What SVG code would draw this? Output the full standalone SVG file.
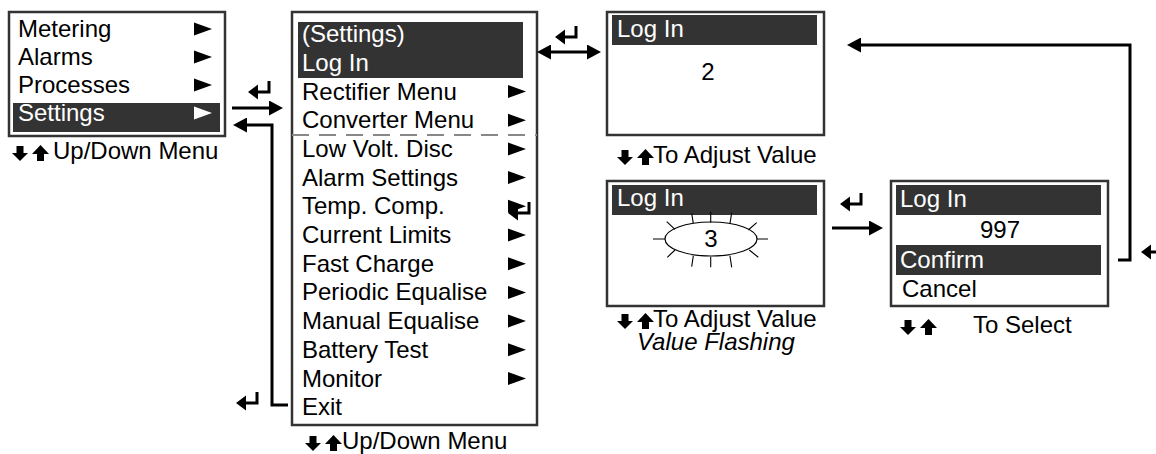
<svg xmlns="http://www.w3.org/2000/svg" xmlns:xlink="http://www.w3.org/1999/xlink" width="1156" height="454" viewBox="0 0 1156 454">
<style>
text{font-family:"Liberation Sans",Arial,sans-serif;font-size:24px;fill:#000}
.w{fill:#fff}
.it{font-style:italic}
.box{fill:#fff;stroke:#333;stroke-width:2.5}
.band{fill:#333}
.conn{fill:none;stroke:#000;stroke-width:3}
.ray{stroke:#000;stroke-width:1.1;fill:none}
.es{fill:none;stroke:#000;stroke-width:3}
</style>
<defs>
<marker id="arr" viewBox="0 0 14 15" refX="10" refY="7.5" markerWidth="14" markerHeight="15" markerUnits="userSpaceOnUse" orient="auto-start-reverse"><path d="M0,0 L14,7.5 L0,15 Z" fill="#000"/></marker>
<path id="tri" d="M0,-6.5 L18,0 L0,6.5 Z"/>
<g id="enter"><path d="M0,0 L10,-7.5 L10,7.5 Z" fill="#000"/><path class="es" d="M8,0 H22.5 M21,1.5 V-11"/></g>
<g id="ud" fill="#000"><path d="M4.5,-13 H11.5 V-6 H16 L8,2 L0,-6 H4.5 Z"/><path d="M20,-5 L28.5,-14 L37,-5 H32 V2 H25 V-5 Z"/></g>
</defs>

<g id="menu-main">
<rect class="box" x="9" y="12" width="216" height="124"/>
<rect class="band" x="13" y="103" width="207" height="29"/>
<text x="18" y="37">Metering</text>
<text x="18" y="65">Alarms</text>
<text x="18" y="93">Processes</text>
<text class="w" x="18" y="121">Settings</text>
<use href="#tri" x="194" y="29"/>
<use href="#tri" x="194" y="57"/>
<use href="#tri" x="194" y="85"/>
<use href="#tri" x="194" y="113" fill="#fff"/>
<use href="#ud" x="12" y="159"/>
<text x="53" y="159">Up/Down Menu</text>
</g>

<g id="menu-settings">
<rect class="box" x="292" y="12" width="245" height="413"/>
<rect class="band" x="298" y="22" width="225" height="56"/>
<line x1="292" y1="135" x2="537" y2="135" stroke="#888" stroke-width="2" stroke-dasharray="17 10"/>
<text class="w" x="302" y="42">(Settings)</text>
<text class="w" x="302" y="70.5">Log In</text>
<text x="302" y="99.5">Rectifier Menu</text>
<text x="302" y="128.2">Converter Menu</text>
<text x="302" y="156.9">Low Volt. Disc</text>
<text x="302" y="185.6">Alarm Settings</text>
<text x="302" y="214.3">Temp. Comp.</text>
<text x="302" y="243">Current Limits</text>
<text x="302" y="271.7">Fast Charge</text>
<text x="302" y="300.4">Periodic Equalise</text>
<text x="302" y="329.1">Manual Equalise</text>
<text x="302" y="357.8">Battery Test</text>
<text x="302" y="386.5">Monitor</text>
<text x="302" y="415.2">Exit</text>
<use href="#tri" x="508" y="91.5"/>
<use href="#tri" x="508" y="120.2"/>
<use href="#tri" x="508" y="148.9"/>
<use href="#tri" x="508" y="177.6"/>
<use href="#tri" x="508" y="206.3"/>
<use href="#enter" x="508" y="213"/>
<use href="#tri" x="508" y="235"/>
<use href="#tri" x="508" y="263.7"/>
<use href="#tri" x="508" y="292.4"/>
<use href="#tri" x="508" y="321.1"/>
<use href="#tri" x="508" y="349.8"/>
<use href="#tri" x="508" y="378.5"/>
<use href="#ud" x="305" y="449"/>
<text x="342" y="449">Up/Down Menu</text>
</g>

<g id="login-value">
<rect class="box" x="607" y="12" width="217" height="123"/>
<rect class="band" x="612" y="15" width="205" height="30"/>
<text class="w" x="617" y="37">Log In</text>
<text x="708" y="80" text-anchor="middle">2</text>
<use href="#ud" x="617" y="163"/>
<text x="653" y="163">To Adjust Value</text>
</g>

<g id="login-flashing">
<rect class="box" x="607" y="181" width="217" height="125"/>
<rect class="band" x="612" y="185" width="205" height="30"/>
<text class="w" x="617" y="206">Log In</text>
<ellipse cx="711" cy="239" rx="46" ry="17" fill="none" stroke="#000" stroke-width="1.2"/>
<text x="711" y="247" text-anchor="middle">3</text>
<path class="ray" d="M653,239 H665 M757,239 H768 M691.7,213.3 L693.3,223.3 M710.7,211.7 V222.7 M731.7,212.7 L730,223.3 M693.3,256 L691.7,266.7 M710.7,256.7 V267.3 M730,256 L731.7,267.3 M666.7,221.7 L675,229.3 M756.7,222.7 L748.3,230 M667.3,257.3 L675,250 M749.3,250 L758.3,257.3"/>
<use href="#ud" x="617" y="327"/>
<text x="653" y="327">To Adjust Value</text>
<text class="it" x="637" y="350">Value Flashing</text>
</g>

<g id="login-confirm">
<rect class="box" x="891" y="181" width="217" height="125"/>
<rect class="band" x="896" y="185" width="205" height="30"/>
<rect class="band" x="896" y="245" width="205" height="30"/>
<text class="w" x="900" y="207">Log In</text>
<text x="1000" y="238" text-anchor="middle">997</text>
<text class="w" x="900" y="268">Confirm</text>
<text x="902" y="297">Cancel</text>
<use href="#ud" x="900" y="333"/>
<text x="973" y="333">To Select</text>
</g>

<g id="connectors">
<path class="conn" d="M232,108 H279" marker-end="url(#arr)"/>
<path class="conn" d="M288,405 H272 V125 H237" marker-end="url(#arr)"/>
<path class="conn" d="M541,52 H597" marker-start="url(#arr)" marker-end="url(#arr)"/>
<path class="conn" d="M832,228 H879" marker-end="url(#arr)"/>
<path class="conn" d="M1118,260 H1130 V45 H851" marker-end="url(#arr)"/>
<use href="#enter" x="248" y="92"/>
<use href="#enter" x="236" y="403"/>
<use href="#enter" x="555" y="37"/>
<use href="#enter" x="840" y="204"/>
<use href="#enter" x="1141" y="252"/>
</g>
</svg>
